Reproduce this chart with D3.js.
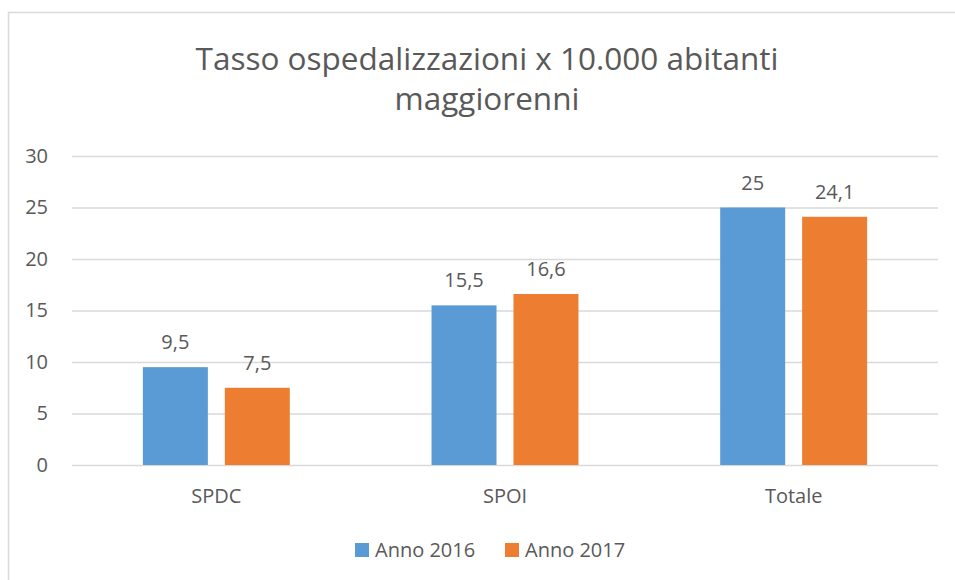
<!DOCTYPE html>
<html>
<head>
<meta charset="utf-8">
<script src="https://cdn.jsdelivr.net/npm/d3@7"></script>
<style>
  html, body { margin: 0; padding: 0; background: #fff; }
  text { font-family: "Open Sans", "Noto Sans", sans-serif; fill: #595959; }
</style>
</head>
<body>
<div id="chart"></div>
<script>
const categories = ["SPDC", "SPOI", "Totale"]
const seriesNames = ["Anno 2016", "Anno 2017"]
const values2016 = [9.5, 15.5, 25]
const values2017 = [7.5, 16.6, 24.1]
const yTicks = [0, 5, 10, 15, 20, 25, 30]
const titleLines = ["Tasso ospedalizzazioni x 10.000 abitanti", "maggiorenni"]

const COLORS = ["#5B9BD5", "#ED7D31"]
const W = 955, H = 580
const PLOT = { left: 72, right: 938, top: 156, bottom: 465 }
const FS = "20px"

const svg = d3.select("#chart").append("svg")
    .attr("width", W)
    .attr("height", H)

// outer chart border (runs off the right and bottom edges)
svg.append("rect")
    .attr("x", 8.5).attr("y", 12.5)
    .attr("width", 970).attr("height", 620)
    .attr("fill", "none")
    .attr("stroke", "#D9D9D9")
    .attr("stroke-width", 1.5)

// title, two separate lines
svg.selectAll(".title").data(titleLines).join("text")
    .attr("class", "title")
    .attr("text-anchor", "middle")
    .attr("x", 487)
    .attr("y", (d, i) => 70 + i * 40)
    .style("font-size", "31.5px")
    .text(d => d)

// scales
const x0 = d3.scaleBand()
    .domain(categories)
    .range([PLOT.left, PLOT.right])
    .paddingInner(0.491)
    .paddingOuter(0.2455)

const x1 = d3.scaleBand()
    .domain(seriesNames)
    .range([0, x0.bandwidth()])
    .paddingInner(0.207)

const y = d3.scaleLinear()
    .domain([0, 30])
    .range([PLOT.bottom, PLOT.top])

// gridlines
svg.append("g")
    .attr("class", "grid")
    .attr("transform", `translate(${PLOT.left},0)`)
    .call(d3.axisLeft(y).tickValues(yTicks).tickSize(-(PLOT.right - PLOT.left)).tickFormat(""))
    .call(g => g.select(".domain").remove())
    .call(g => g.selectAll("line").attr("stroke", "#D9D9D9").attr("stroke-width", 1.5))

// y tick labels
svg.append("g")
    .attr("transform", `translate(${PLOT.left - 24},0)`)
    .call(d3.axisLeft(y).tickValues(yTicks).tickSize(0).tickPadding(0))
    .call(g => g.select(".domain").remove())
    .call(g => g.selectAll("text")
        .attr("fill", "#595959")
        .style("font-size", FS)
        .style("font-family", "'Open Sans', sans-serif"))

// bars
const rows = categories.map((c, i) => ({ cat: c, vals: [values2016[i], values2017[i]] }))

const groups = svg.selectAll(".cat").data(rows).join("g")
    .attr("class", "cat")
    .attr("transform", d => `translate(${x0(d.cat)},0)`)

groups.selectAll("rect")
    .data(d => d.vals.map((v, j) => ({ name: seriesNames[j], v, j })))
    .join("rect")
    .attr("x", d => x1(d.name))
    .attr("y", d => y(d.v))
    .attr("width", x1.bandwidth())
    .attr("height", d => y(0) - y(d.v))
    .attr("fill", d => COLORS[d.j])

// data labels
const fmt = v => String(v).replace(".", ",")
groups.selectAll(".lbl")
    .data(d => d.vals.map((v, j) => ({ name: seriesNames[j], v })))
    .join("text")
    .attr("class", "lbl")
    .attr("x", d => x1(d.name) + x1.bandwidth() / 2)
    .attr("y", d => y(d.v) - 18)
    .attr("text-anchor", "middle")
    .style("font-size", FS)
    .text(d => fmt(d.v))

// category labels
svg.append("g")
    .attr("transform", `translate(0,${PLOT.bottom})`)
    .call(d3.axisBottom(x0).tickSize(0).tickPadding(0))
    .call(g => g.select(".domain").remove())
    .call(g => g.selectAll("text")
        .attr("dy", null)
        .attr("y", 38)
        .attr("fill", "#595959")
        .style("font-size", FS)
        .style("font-family", "'Open Sans', sans-serif"))

// legend
const legendX = [355, 505]
const legend = svg.selectAll(".leg").data(seriesNames).join("g")
    .attr("class", "leg")
    .attr("transform", (d, i) => `translate(${legendX[i]},543)`)
legend.append("rect")
    .attr("width", 14).attr("height", 14)
    .attr("fill", (d, i) => COLORS[i])
legend.append("text")
    .attr("x", 20).attr("y", 14)
    .style("font-size", FS)
    .text(d => d)
</script>
</body>
</html>
